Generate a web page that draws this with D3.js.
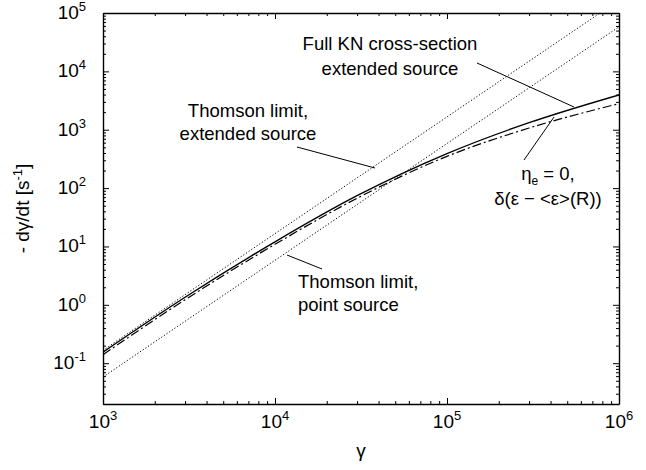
<!DOCTYPE html>
<html>
<head>
<meta charset="utf-8">
<script src="https://cdn.jsdelivr.net/npm/d3@7"></script>
<style>
  body { margin: 0; background: #fff; }
  svg { font-family: "Liberation Sans", Arial, sans-serif; }
  .axis path, .axis line { stroke: #000; }
</style>
</head>
<body>
<div id="chart"></div>
<script>
var svgWidth = 646;
var svgHeight = 470;

var margin = { top: 13, right: 27, bottom: 66, left: 103 };
var width = svgWidth - margin.left - margin.right;
var height = svgHeight - margin.top - margin.bottom;

// values
var gamma = [1e3, 3e3, 1e4, 3e4, 1e5, 3e5, 1e6];
var knExtended = [0.155, 1.35, 12, 74, 390, 1320, 3950];
var etaZero = [0.14, 1.22, 10.9, 67, 350, 1070, 2800];

var gammaEnds = [1e3, 1e6];
var thomsonExtended = [0.166, 1.66e5];
var thomsonPoint = [0.058, 5.8e4];

var xMajor = [1e3, 1e4, 1e5, 1e6];
var xExp = ["3", "4", "5", "6"];
var yMajor = [1e-1, 1e0, 1e1, 1e2, 1e3, 1e4, 1e5];
var yExp = ["-1", "0", "1", "2", "3", "4", "5"];

var svg = d3.select("#chart")
  .append("svg")
  .attr("width", svgWidth)
  .attr("height", svgHeight);

var x = d3.scaleLog().domain([1e3, 1e6]).range([margin.left, margin.left + width]);
var y = d3.scaleLog().domain([0.02, 1e5]).range([margin.top + height, margin.top]);

function minors(lo, hi) {
  var out = [];
  for (var d = lo; d < hi; d *= 10) {
    for (var k = 2; k <= 9; k++) {
      if (k * d < hi) out.push(k * d);
    }
  }
  return out;
}
var xMinor = minors(1e3, 1e6);
var yMinor = minors(1e-2, 1e5).filter(function(v) { return v >= 0.02; });

function addAxis(axisFn, scale, tx, ty, values, size, keepDomain) {
  var g = svg.append("g")
    .attr("class", "axis")
    .attr("transform", "translate(" + tx + "," + ty + ")")
    .call(axisFn(scale).tickValues(values).tickSize(-size).tickSizeOuter(0).tickFormat(""));
  g.selectAll("line").attr("stroke-width", 1);
  if (keepDomain) g.select(".domain").attr("stroke-width", 1.4);
  else g.select(".domain").remove();
}

// minor ticks
addAxis(d3.axisBottom, x, 0, margin.top + height, xMinor, 3, false);
addAxis(d3.axisTop, x, 0, margin.top, xMinor, 3, false);
addAxis(d3.axisLeft, y, margin.left, 0, yMinor, 3, false);
addAxis(d3.axisRight, y, margin.left + width, 0, yMinor, 3, false);
// major ticks + frame
addAxis(d3.axisBottom, x, 0, margin.top + height, xMajor, 6, true);
addAxis(d3.axisTop, x, 0, margin.top, xMajor, 6, true);
addAxis(d3.axisLeft, y, margin.left, 0, yMajor, 6, true);
addAxis(d3.axisRight, y, margin.left + width, 0, yMajor, 6, true);

// tick labels 10^n
xMajor.forEach(function(v, i) {
  var t = svg.append("text")
    .attr("x", x(v))
    .attr("y", 428)
    .attr("text-anchor", "middle")
    .attr("font-size", "19px");
  t.append("tspan").text("10");
  t.append("tspan").attr("dy", -8).attr("font-size", "13px").text(xExp[i]);
});
yMajor.forEach(function(v, i) {
  var t = svg.append("text")
    .attr("x", 86)
    .attr("y", y(v) + 6)
    .attr("text-anchor", "end")
    .attr("font-size", "19px");
  t.append("tspan").text("10");
  t.append("tspan").attr("dy", -8).attr("font-size", "13px").text(yExp[i]);
});

// axis titles
svg.append("text")
  .attr("x", margin.left + width / 2)
  .attr("y", 457)
  .attr("text-anchor", "middle")
  .attr("font-size", "19px")
  .text("γ");

var yt = svg.append("text")
  .attr("transform", "translate(29," + (margin.top + height / 2) + ") rotate(-90)")
  .attr("text-anchor", "middle")
  .attr("font-size", "19px");
yt.append("tspan").text("- dγ/dt [s");
yt.append("tspan").attr("dy", -7).attr("font-size", "13px").text("-1");
yt.append("tspan").attr("dy", 7).text("]");

// curves
svg.append("clipPath").attr("id", "plot")
  .append("rect")
  .attr("x", margin.left).attr("y", margin.top)
  .attr("width", width).attr("height", height);

var plot = svg.append("g").attr("clip-path", "url(#plot)");

var line = d3.line()
  .x(function(d) { return x(d[0]); })
  .y(function(d) { return y(d[1]); })
  .curve(d3.curveMonotoneX);

function pairs(xs, ys) { return xs.map(function(v, i) { return [v, ys[i]]; }); }

plot.append("path")
  .attr("d", line(pairs(gammaEnds, thomsonExtended)))
  .attr("fill", "none").attr("stroke", "#000").attr("stroke-width", 1)
  .attr("stroke-dasharray", "1.2,2");

plot.append("path")
  .attr("d", line(pairs(gammaEnds, thomsonPoint)))
  .attr("fill", "none").attr("stroke", "#000").attr("stroke-width", 1)
  .attr("stroke-dasharray", "1.2,2");

plot.append("path")
  .attr("d", line(pairs(gamma, etaZero)))
  .attr("fill", "none").attr("stroke", "#000").attr("stroke-width", 1.2)
  .attr("stroke-dasharray", "9,3,2,3");

plot.append("path")
  .attr("d", line(pairs(gamma, knExtended)))
  .attr("fill", "none").attr("stroke", "#000").attr("stroke-width", 1.4);

// annotations
function label(lines, xpos, ys, anchor) {
  lines.forEach(function(s, i) {
    svg.append("text")
      .attr("x", xpos).attr("y", ys[i])
      .attr("text-anchor", anchor)
      .attr("font-size", "18.5px")
      .text(s);
  });
}
function pointer(x1, y1, x2, y2) {
  svg.append("line")
    .attr("x1", x1).attr("y1", y1).attr("x2", x2).attr("y2", y2)
    .attr("stroke", "#000").attr("stroke-width", 1);
}

label(["Full KN cross-section", "extended source"], 390, [50, 75], "middle");
pointer(477, 63, 574, 107);

label(["Thomson limit,", "extended source"], 248, [117, 140], "middle");
pointer(297, 147, 375, 168);

label(["Thomson limit,", "point source"], 298, [288, 311], "start");
pointer(287, 255, 322, 269);

var eta = svg.append("text")
  .attr("x", 548).attr("y", 180)
  .attr("text-anchor", "middle")
  .attr("font-size", "18.5px");
eta.append("tspan").text("η");
eta.append("tspan").attr("dy", 5).attr("font-size", "12px").text("e");
eta.append("tspan").attr("dy", -5).text(" = 0,");
label(["δ(ε − <ε>(R))"], 548, [205], "middle");
pointer(524, 160, 554, 117);
</script>
</body>
</html>
